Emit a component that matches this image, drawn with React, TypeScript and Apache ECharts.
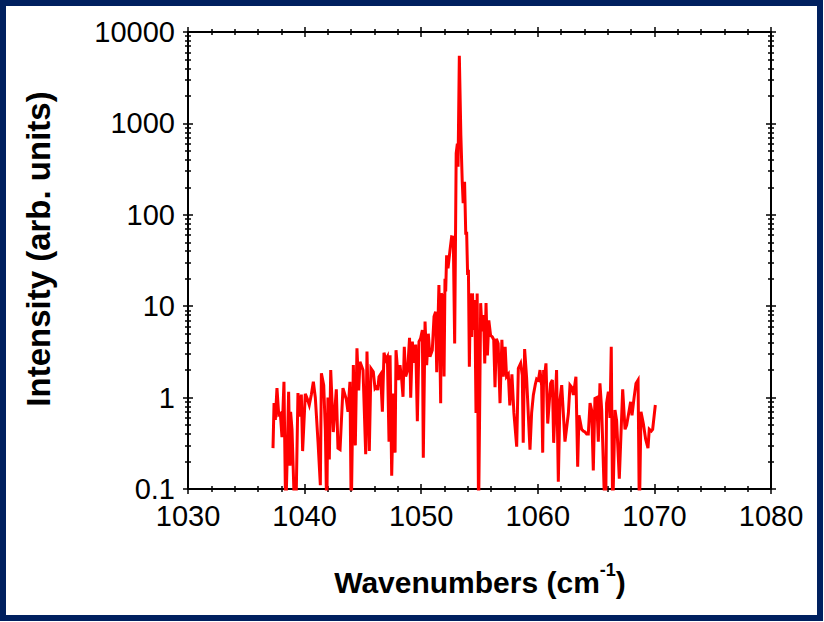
import React, { useEffect, useRef } from "react";
import * as echarts from "echarts";

const wavenumbers = [
  1037.29, 1037.38, 1037.49, 1037.63, 1037.78, 1037.92, 1038.06, 1038.23, 1038.38, 1038.49,
  1038.63, 1038.75, 1038.8, 1038.92, 1039.15, 1039.26, 1039.43, 1039.58, 1039.72, 1039.83,
  1040.06, 1040.23, 1040.4, 1040.58, 1040.75, 1040.92, 1041.15, 1041.35, 1041.44, 1041.64,
  1041.78, 1041.9, 1042.0, 1042.12, 1042.24, 1042.46, 1042.72, 1042.86, 1043.04, 1043.29,
  1043.58, 1043.72, 1043.89, 1044.0, 1044.18, 1044.35, 1044.49, 1044.64, 1044.75, 1045.01,
  1045.24, 1045.35, 1045.55, 1045.69, 1045.89, 1046.04, 1046.18, 1046.27, 1046.38, 1046.52,
  1046.67, 1046.81, 1046.95, 1047.1, 1047.24, 1047.33, 1047.47, 1047.62, 1047.76, 1047.84,
  1048.04, 1048.18, 1048.33, 1048.44, 1048.55, 1048.67, 1048.84, 1049.0, 1049.1, 1049.24,
  1049.38, 1049.53, 1049.67, 1049.81, 1049.95, 1050.1, 1050.18, 1050.33, 1050.47, 1050.61,
  1050.75, 1050.95, 1051.1, 1051.24, 1051.33, 1051.52, 1051.67, 1051.72, 1051.85, 1051.96,
  1052.04, 1052.1, 1052.18, 1052.3, 1052.47, 1052.61, 1052.75, 1052.87, 1053.0, 1053.1,
  1053.16, 1053.27, 1053.4, 1053.52, 1053.6, 1053.72, 1053.82, 1053.9, 1053.98, 1054.05,
  1054.13, 1054.22, 1054.33, 1054.4, 1054.5, 1054.6, 1054.7, 1054.8, 1054.92, 1055.0,
  1055.1, 1055.22, 1055.35, 1055.45, 1055.56, 1055.68, 1055.8, 1055.95, 1056.1, 1056.22,
  1056.33, 1056.45, 1056.6, 1056.76, 1056.92, 1057.04, 1057.2, 1057.32, 1057.47, 1057.6,
  1057.78, 1057.95, 1058.19, 1058.33, 1058.53, 1058.67, 1058.75, 1058.87, 1059.04, 1059.19,
  1059.33, 1059.47, 1059.62, 1059.79, 1059.9, 1060.05, 1060.19, 1060.33, 1060.42, 1060.5,
  1060.6, 1060.7, 1060.85, 1061.1, 1061.25, 1061.36, 1061.61, 1061.76, 1061.9, 1062.05,
  1062.33, 1062.62, 1062.76, 1062.9, 1063.05, 1063.27, 1063.42, 1063.53, 1063.62, 1063.76,
  1063.9, 1064.05, 1064.19, 1064.33, 1064.48, 1064.62, 1064.76, 1064.9, 1065.05, 1065.19,
  1065.33, 1065.48, 1065.68, 1065.82, 1065.9, 1066.05, 1066.19, 1066.3, 1066.42, 1066.62,
  1066.76, 1066.99, 1067.28, 1067.48, 1067.62, 1067.79, 1067.96, 1068.08, 1068.25, 1068.42,
  1068.6, 1068.71, 1068.85, 1069.05, 1069.25, 1069.45, 1069.56, 1069.73, 1069.85, 1070.08,
];

const intensities = [
  0.28, 0.87, 0.57, 1.27, 0.65, 0.67, 0.37, 1.49, 0.05, 0.18,
  1.16, 0.18, 0.7, 0.45, 0.05, 0.06, 1.12, 0.62, 1.08, 0.26,
  1.1, 0.97, 0.83, 1.08, 1.49, 1.0, 0.33, 0.11, 1.85, 1.37,
  0.44, 0.05, 1.0, 0.21, 2.0, 0.42, 1.23, 0.28, 0.27, 1.27,
  0.95, 0.7, 1.49, 0.05, 2.27, 0.3, 3.46, 1.2, 2.47, 2.0,
  0.24, 3.2, 0.26, 2.09, 1.92, 1.26, 1.32, 1.21, 1.69, 1.8,
  0.7, 3.1, 2.58, 2.8, 0.33, 2.9, 0.14, 1.11, 0.25, 3.3,
  1.55, 2.27, 1.55, 1.02, 3.6, 1.7, 2.0, 4.5, 1.0, 4.1,
  2.4, 3.8, 0.55, 4.1, 4.45, 5.5, 0.22, 6.8, 2.27, 5.0,
  2.8, 3.3, 7.7, 8.7, 1.9, 17, 0.87, 13.8, 12.7, 1.7,
  20, 14.5, 36, 26, 41, 57.5, 57, 3.9, 470, 600,
  336, 5500, 750, 230, 134, 230, 63, 63, 22, 25,
  2.18, 13.8, 4.6, 13.8, 5.5, 11.7, 0.68, 13.8, 0.05, 0.48,
  10.8, 5.3, 8.0, 2.37, 10.8, 2.9, 7.0, 4.8, 4.6, 4.3,
  1.3, 4.4, 3.9, 0.87, 4.3, 1.7, 3.6, 1.7, 1.8, 0.82,
  1.8, 0.68, 0.29, 2.09, 2.37, 1.75, 0.32, 3.4, 1.65, 0.64,
  0.27, 0.68, 1.07, 1.4, 1.6, 1.55, 2.0, 1.35, 0.25, 2.0,
  1.8, 2.37, 0.52, 1.43, 1.56, 0.32, 2.0, 0.12, 0.94, 1.37,
  0.33, 0.67, 1.37, 1.3, 1.07, 1.69, 0.175, 0.64, 0.56, 0.45,
  0.43, 0.42, 0.4, 0.4, 0.87, 0.73, 0.16, 0.98, 1.0, 0.33,
  1.43, 0.73, 0.106, 0.05, 0.87, 1.16, 0.6, 3.6, 0.05, 0.73,
  0.56, 0.13, 1.23, 0.45, 0.5, 0.67, 0.9, 0.64, 0.98, 1.43,
  1.56, 0.05, 0.7, 0.52, 0.35, 0.28, 0.45, 0.43, 0.45, 0.83,
];

const xMin = 1030;
const xMax = 1080;
const xStep = 10;
const yMin = 0.1;
const yMax = 10000;
const yMinorTicks = [
  0.2, 0.3, 0.4, 0.5, 0.6, 0.7, 0.8, 0.9,
  2, 3, 4, 5, 6, 7, 8, 9,
  20, 30, 40, 50, 60, 70, 80, 90,
  200, 300, 400, 500, 600, 700, 800, 900,
  2000, 3000, 4000, 5000, 6000, 7000, 8000, 9000,
];

const xTitle = "Wavenumbers (cm";
const xTitleSup = "-1";
const yTitle = "Intensity (arb. units)";

const FONT = "'Liberation Sans', Arial, Helvetica, sans-serif";
const BLACK = "#000";

export default function App() {
  const ref = useRef<HTMLDivElement>(null);

  useEffect(() => {
    if (!ref.current) return;
    const chart = echarts.init(ref.current, undefined, { renderer: "svg" });

    const tickStyle = { color: BLACK, width: 1.5 };
    const lineStyle = { color: BLACK, width: 2 };

    const makeX = (position: string, inside: boolean, main: boolean) => ({
      type: "value",
      gridIndex: 0,
      position,
      min: xMin,
      max: xMax,
      interval: xStep,
      axisLine: { show: main, onZero: false, lineStyle },
      axisTick: { show: true, inside, length: 5, lineStyle: tickStyle },
      minorTick: { show: true, splitNumber: 5, length: 3, lineStyle: tickStyle },
      axisLabel: {
        show: main && position === "bottom",
        fontSize: 29,
        fontFamily: FONT,
        color: BLACK,
        margin: 12,
        formatter: (v: number) => String(v),
      },
      splitLine: { show: false },
      minorSplitLine: { show: false },
    });

    const makeY = (position: string, inside: boolean, main: boolean, minor: boolean) => ({
      type: "log",
      logBase: 10,
      gridIndex: 0,
      position,
      min: yMin,
      max: yMax,
      axisLine: { show: main, onZero: false, lineStyle },
      axisTick: minor
        ? { show: true, inside, length: 3, lineStyle: tickStyle, customValues: yMinorTicks }
        : { show: true, inside, length: 5, lineStyle: tickStyle },
      axisLabel: {
        show: main && position === "left",
        fontSize: 29,
        fontFamily: FONT,
        color: BLACK,
        margin: 13,
        formatter: (v: number) => String(v),
      },
      splitLine: { show: false },
    });

    const data = wavenumbers.map((w, i) => [w, intensities[i]]);

    chart.setOption({
      animation: false,
      backgroundColor: "#fff",
      grid: { left: 188, top: 32, width: 583, height: 457, containLabel: false },
      xAxis: [
        makeX("bottom", false, true),
        makeX("bottom", true, false),
        makeX("top", false, true),
        makeX("top", true, false),
      ],
      yAxis: [
        makeY("left", false, true, false),
        makeY("left", true, false, false),
        makeY("left", false, false, true),
        makeY("left", true, false, true),
        makeY("right", false, true, false),
        makeY("right", true, false, false),
        makeY("right", false, false, true),
        makeY("right", true, false, true),
      ],
      series: [
        {
          type: "line",
          xAxisIndex: 0,
          yAxisIndex: 0,
          data,
          showSymbol: false,
          symbol: "none",
          clip: true,
          lineStyle: { color: "#ff0000", width: 3, join: "miter" },
          itemStyle: { color: "#ff0000" },
        },
      ],
      graphic: [
        {
          type: "rect",
          shape: { x: 3, y: 3, width: 817, height: 615 },
          style: { fill: "none", stroke: "#00205f", lineWidth: 6 },
          silent: true,
        },
        {
          type: "text",
          x: 38,
          y: 249,
          rotation: Math.PI / 2,
          style: {
            text: yTitle,
            font: `bold 33px ${FONT}`,
            fill: BLACK,
            textAlign: "center",
            textVerticalAlign: "middle",
          },
        },
        {
          type: "text",
          x: 480,
          y: 579,
          style: {
            text: `{a|${xTitle}}{s|${xTitleSup}}{a|)}`,
            textAlign: "center",
            textVerticalAlign: "middle",
            rich: {
              a: { fontSize: 30, fontWeight: "bold", fontFamily: FONT, fill: BLACK, lineHeight: 36, verticalAlign: "bottom" },
              s: { fontSize: 18, fontWeight: "bold", fontFamily: FONT, fill: BLACK, lineHeight: 36, verticalAlign: "top" },
            },
          },
        },
      ],
    });

    return () => chart.dispose();
  }, []);

  return (
    <div
      ref={ref}
      style={{ position: "fixed", left: 0, top: 0, width: 824, height: 622, background: "#fff" }}
    />
  );
}
